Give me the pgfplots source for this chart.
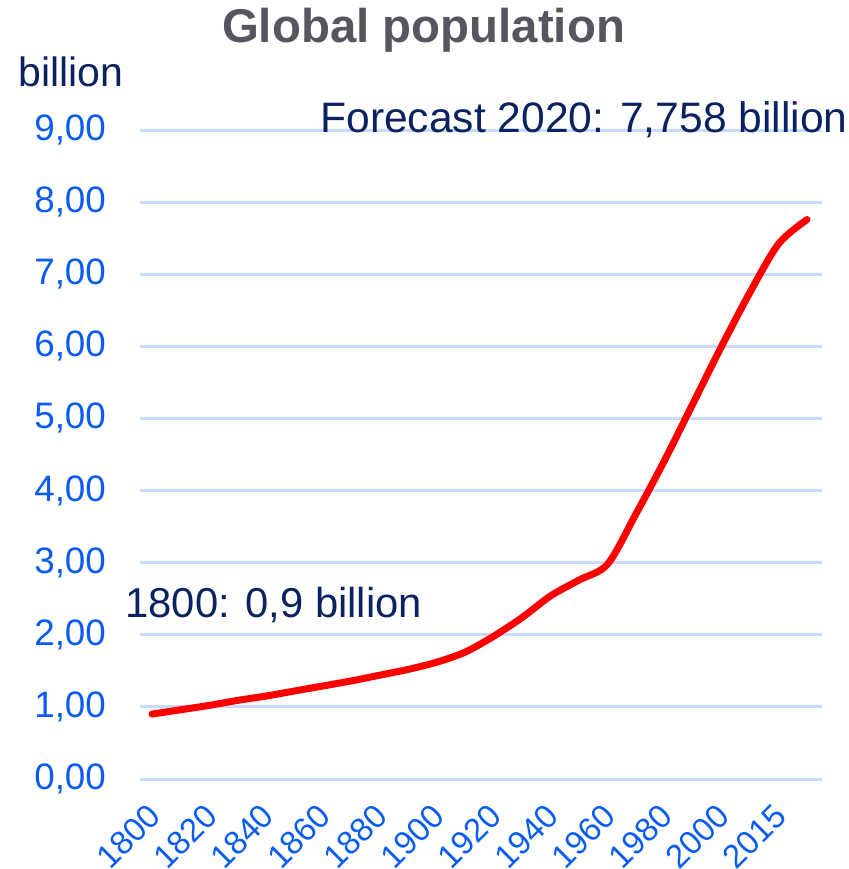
\documentclass[border=0pt]{standalone}
\usepackage{pgfplots}
\pgfplotsset{compat=1.18}
\usepackage{fontspec}
\setmainfont{Liberation Sans}
\definecolor{tickblue}{RGB}{10,92,240}
\definecolor{gridblue}{RGB}{200,218,255}
\definecolor{navy}{RGB}{11,34,96}
\definecolor{titlegray}{RGB}{86,86,95}
\begin{document}
\begin{tikzpicture}
\begin{axis}[
  at={(0,0)}, anchor=south west,
  scale only axis, width=341pt, height=324.5pt,
  xmin=-0.421, xmax=23.527, ymin=0, ymax=9,
  axis line style={draw=none},
  ytick={0,1,2,3,4,5,6,7,8,9},
  yticklabels={{0,00},{1,00},{2,00},{3,00},{4,00},{5,00},{6,00},{7,00},{8,00},{9,00}},
  xtick={0,2,4,6,8,10,12,14,16,18,20,22},
  xticklabels={1800,1820,1840,1860,1880,1900,1920,1940,1960,1980,2000,2015},
  tick style={draw=none},
  ymajorgrids, grid style={gridblue, line width=1.5pt},
  yticklabel style={font=\fontsize{18.4}{18}\selectfont, text=tickblue, xshift=-13.5pt},
  xticklabel style={font=\fontsize{16.5}{17}\selectfont, text=tickblue, rotate=45, anchor=north east, xshift=-7pt, yshift=-2.6pt},
  clip=false,
]
\addplot[red, line width=3.5pt, smooth, tension=0.5, line cap=round, line join=round] coordinates {
(0,0.90) (1,0.96) (2,1.02) (3,1.09) (4,1.15) (5,1.22) (6,1.29) (7,1.36)
(8,1.44) (9,1.52) (10,1.62) (11,1.76) (12,1.98) (13,2.24) (14,2.54) (15,2.76)
(16,2.98) (17,3.68) (18,4.42) (19,5.21) (20,6.00) (21,6.75) (22,7.42) (23,7.758)
};
\end{axis}
\node[anchor=base, inner sep=0, font=\bfseries\fontsize{23.7}{24}\selectfont, text=titlegray] at (141.75pt,368pt) {Global population};
\node[anchor=base west, inner sep=0, font=\fontsize{20.5}{21}\selectfont, text=navy] at (-61pt,346pt) {billion};
\node[anchor=base west, inner sep=0, font=\fontsize{21.3}{22}\selectfont, text=navy] at (90pt,323pt) {Forecast 2020: 7,758 billion};
\node[anchor=base west, inner sep=0, font=\fontsize{20.9}{21}\selectfont, text=navy] at (-7.5pt,81pt) {1800: 0,9 billion};
\pgfresetboundingbox
\path[use as bounding box] (-70pt,-45pt) rectangle (354.5pt,389.5pt);
\end{tikzpicture}
\end{document}
